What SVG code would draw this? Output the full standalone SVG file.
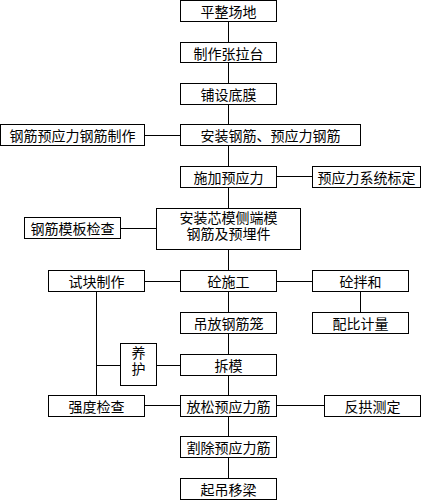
<svg xmlns="http://www.w3.org/2000/svg" width="421" height="500" viewBox="0 0 421 500">
<style>
rect{fill:#fff;stroke:#000;stroke-width:1}
line{stroke:#000;stroke-width:1}
text{font-family:"Noto Sans CJK SC","Liberation Sans",sans-serif;font-size:14px;fill:#000;text-anchor:middle;dominant-baseline:central}
</style>
<rect x="0" y="0" width="421" height="500" style="stroke:none"/>
<g id="connectors">
<line x1="228.5" y1="21.5" x2="228.5" y2="42.5"/>
<line x1="228.5" y1="62.5" x2="228.5" y2="83.5"/>
<line x1="228.5" y1="104.5" x2="228.5" y2="124.5"/>
<line x1="228.5" y1="145.5" x2="228.5" y2="166.5"/>
<line x1="228.5" y1="187.5" x2="228.5" y2="208.5"/>
<line x1="228.5" y1="249.5" x2="228.5" y2="270.5"/>
<line x1="228.5" y1="291.5" x2="228.5" y2="312.5"/>
<line x1="228.5" y1="333.5" x2="228.5" y2="354.5"/>
<line x1="228.5" y1="375.5" x2="228.5" y2="395.5"/>
<line x1="228.5" y1="416.5" x2="228.5" y2="436.5"/>
<line x1="228.5" y1="457.5" x2="228.5" y2="478.5"/>
<line x1="144.5" y1="135.5" x2="180.5" y2="135.5"/>
<line x1="276.5" y1="176.5" x2="312.5" y2="176.5"/>
<line x1="120.5" y1="228.5" x2="156.5" y2="228.5"/>
<line x1="144.5" y1="281.5" x2="180.5" y2="281.5"/>
<line x1="276.5" y1="281.5" x2="312.5" y2="281.5"/>
<line x1="360.5" y1="291.5" x2="360.5" y2="312.5"/>
<line x1="96.5" y1="291.5" x2="96.5" y2="395.5"/>
<line x1="96.5" y1="365.5" x2="120.5" y2="365.5"/>
<line x1="156.5" y1="365.5" x2="180.5" y2="365.5"/>
<line x1="144.5" y1="405.5" x2="180.5" y2="405.5"/>
<line x1="276.5" y1="405.5" x2="324.5" y2="405.5"/>
</g>
<g id="n1"><rect x="180.5" y="0.5" width="96" height="21"/><text x="228.5" y="11">平整场地</text></g>
<g id="n2"><rect x="180.5" y="42.5" width="96" height="20"/><text x="228.5" y="52.5">制作张拉台</text></g>
<g id="n3"><rect x="180.5" y="83.5" width="96" height="21"/><text x="228.5" y="94">铺设底膜</text></g>
<g id="n4"><rect x="0.5" y="124.5" width="144" height="21"/><text x="72.5" y="135">钢筋预应力钢筋制作</text></g>
<g id="n5"><rect x="180.5" y="124.5" width="180" height="21"/><text x="270.5" y="135">安装钢筋、预应力钢筋</text></g>
<g id="n6"><rect x="180.5" y="166.5" width="96" height="21"/><text x="228.5" y="177">施加预应力</text></g>
<g id="n7"><rect x="312.5" y="166.5" width="108" height="21"/><text x="366.5" y="177">预应力系统标定</text></g>
<g id="n8"><rect x="24.5" y="217.5" width="96" height="21"/><text x="72.5" y="228">钢筋模板检查</text></g>
<g id="n9"><rect x="156.5" y="208.5" width="144" height="41"/><text x="228.5" y="217">安装芯模侧端模</text><text x="228.5" y="233">钢筋及预埋件</text></g>
<g id="n10"><rect x="48.5" y="270.5" width="96" height="21"/><text x="96.5" y="281">试块制作</text></g>
<g id="n11"><rect x="180.5" y="270.5" width="96" height="21"/><text x="228.5" y="281">砼施工</text></g>
<g id="n12"><rect x="312.5" y="270.5" width="96" height="21"/><text x="360.5" y="281">砼拌和</text></g>
<g id="n13"><rect x="180.5" y="312.5" width="96" height="21"/><text x="228.5" y="323">吊放钢筋笼</text></g>
<g id="n14"><rect x="312.5" y="312.5" width="96" height="21"/><text x="360.5" y="323">配比计量</text></g>
<g id="n15"><rect x="120.5" y="343.5" width="36" height="42"/><text x="138.5" y="352">养</text><text x="138.5" y="368">护</text></g>
<g id="n16"><rect x="180.5" y="354.5" width="96" height="21"/><text x="228.5" y="365">拆模</text></g>
<g id="n17"><rect x="48.5" y="395.5" width="96" height="21"/><text x="96.5" y="406">强度检查</text></g>
<g id="n18"><rect x="180.5" y="395.5" width="96" height="21"/><text x="228.5" y="406">放松预应力筋</text></g>
<g id="n19"><rect x="324.5" y="395.5" width="96" height="21"/><text x="372.5" y="406">反拱测定</text></g>
<g id="n20"><rect x="180.5" y="436.5" width="96" height="21"/><text x="228.5" y="447">割除预应力筋</text></g>
<g id="n21"><rect x="180.5" y="478.5" width="96" height="21"/><text x="228.5" y="489">起吊移梁</text></g>
</svg>
